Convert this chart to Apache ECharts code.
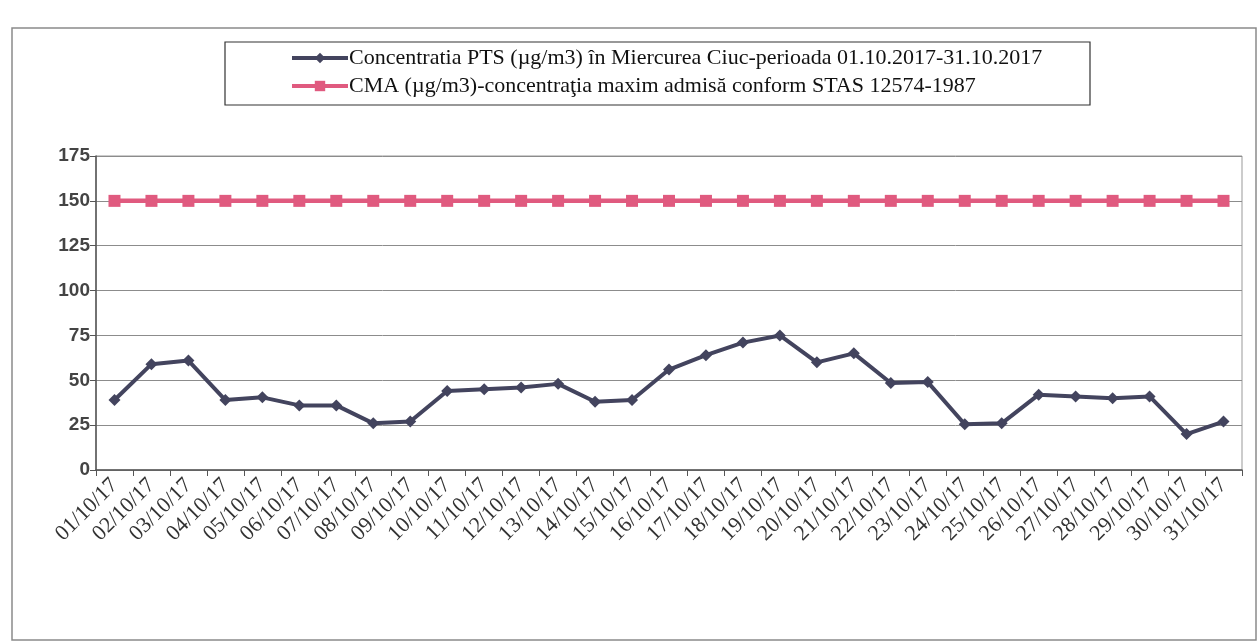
<!DOCTYPE html>
<html>
<head>
<meta charset="utf-8">
<script src="https://cdn.jsdelivr.net/npm/echarts@6/dist/echarts.min.js"></script>
<style>
  html, body { margin: 0; padding: 0; background: #fff; }
  #chart { width: 1260px; height: 644px; }
</style>
</head>
<body>
<div id="chart"></div>
<script>
// zilele lunii octombrie 2017
const days = []
for (let d = 1; d <= 31; d++) {
  days.push((d < 10 ? '0' + d : '' + d) + '/10/17')
}

const ptsName = 'Concentratia PTS (µg/m3) în Miercurea Ciuc-perioada 01.10.2017-31.10.2017'
const cmaName = 'CMA (µg/m3)-concentraţia maxim admisă conform STAS 12574-1987'

const ptsValues = [39, 59, 61, 39, 40.5, 36, 36, 26, 27, 44, 45, 46, 48, 38, 39, 56,
  64, 71, 75, 60, 65, 48.5, 49, 25.5, 26, 42, 41, 40, 41, 20, 27]
const cmaValues = [150, 150, 150, 150, 150, 150, 150, 150, 150, 150, 150, 150, 150, 150, 150, 150,
  150, 150, 150, 150, 150, 150, 150, 150, 150, 150, 150, 150, 150, 150, 150]

const yTicks = [0, 25, 50, 75, 100, 125, 150, 175]

const chart = echarts.init(document.getElementById('chart'))

chart.setOption({
  backgroundColor: '#fff',
  animation: false,
  graphic: [
    {
      type: 'rect',
      shape: { x: 12, y: 28, width: 1244, height: 612 },
      style: { fill: 'none', stroke: '#8a8a8a', lineWidth: 1.5 },
      z: -1
    },
    {
      // chenarul legendei
      type: 'rect',
      shape: { x: 225, y: 42, width: 865, height: 63 },
      style: { fill: 'none', stroke: '#333', lineWidth: 1.2 },
      z: 10
    }
  ],
  legend: {
    orient: 'vertical',
    left: 290,
    top: 47,
    padding: 0,
    itemGap: 6,
    itemWidth: 56,
    itemHeight: 13,
    lineStyle: { width: 4 },
    textStyle: {
      fontFamily: 'Liberation Serif',
      fontSize: 22,
      color: '#111',
      padding: [0, 0, 0, -4]
    },
    data: [ptsName, cmaName]
  },
  grid: {
    left: 96,
    right: 18,
    top: 156,
    bottom: 174,
    show: true,
    borderColor: '#999',
    borderWidth: 1
  },
  xAxis: {
    type: 'category',
    data: days,
    boundaryGap: true,
    axisLine: { lineStyle: { color: '#555', width: 1.5 } },
    axisTick: { show: true, length: 6, lineStyle: { color: '#555' } },
    axisLabel: {
      rotate: 45,
      interval: 0,
      margin: 12,
      fontFamily: 'Liberation Serif',
      fontSize: 22,
      color: '#333'
    }
  },
  yAxis: {
    type: 'value',
    min: yTicks[0],
    max: yTicks[yTicks.length - 1],
    interval: 25,
    axisLine: { show: true, lineStyle: { color: '#555', width: 1.5 } },
    axisTick: { show: true, length: 6, lineStyle: { color: '#555' } },
    axisLabel: {
      margin: 6,
      fontFamily: 'Liberation Sans',
      fontSize: 19,
      fontWeight: 'bold',
      color: '#444'
    },
    splitLine: { lineStyle: { color: '#8c8c8c', width: 1 } }
  },
  series: [
    {
      name: ptsName,
      type: 'line',
      data: ptsValues,
      symbol: 'diamond',
      symbolSize: 12,
      color: '#43445e',
      lineStyle: { width: 4, color: '#43445e' },
      itemStyle: { color: '#43445e' }
    },
    {
      name: cmaName,
      type: 'line',
      data: cmaValues,
      symbol: 'rect',
      symbolSize: 12,
      color: '#e05a7f',
      lineStyle: { width: 4.5, color: '#e05a7f' },
      itemStyle: { color: '#e05a7f' }
    }
  ]
})
</script>
</body>
</html>
